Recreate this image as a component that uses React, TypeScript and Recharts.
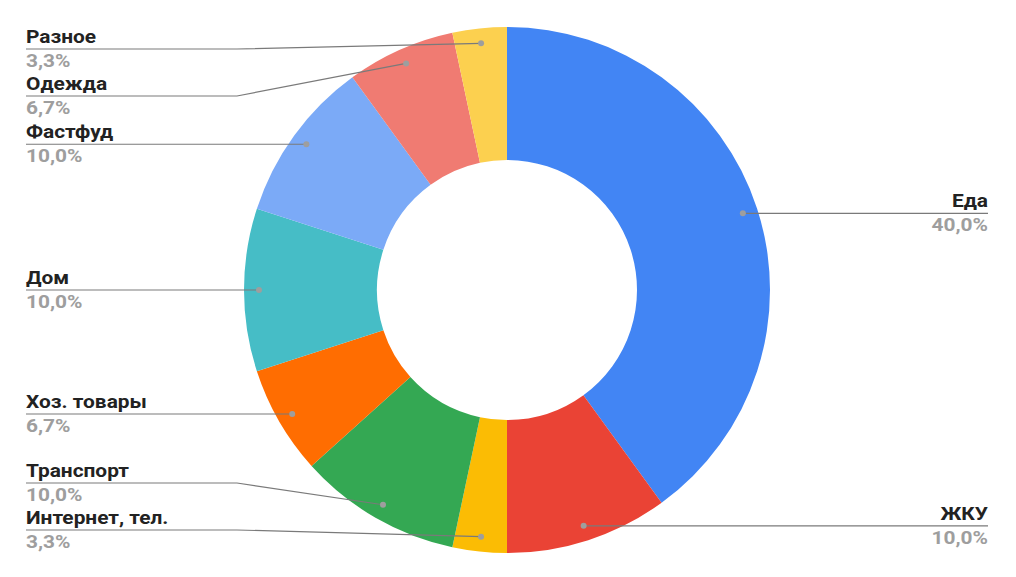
import { Cell, Pie, PieChart } from "recharts";

const categories = ["Еда", "ЖКУ", "Интернет, тел.", "Транспорт", "Хоз. товары", "Дом", "Фастфуд", "Одежда", "Разное"];
const amounts = [12, 3, 1, 3, 2, 3, 3, 2, 1];
const colors = ["#4285F4", "#EA4335", "#FBBC04", "#34A853", "#FF6D01", "#46BDC6", "#7BAAF7", "#F07B72", "#FCD04F"];

const data = categories.map((name, i) => ({ name, value: amounts[i] }));

const W = 1016;
const H = 577;
const CX = 507;
const CY = 290;
const OUTER = 263;
const INNER = 130;
const DOT_R = 248;
const GAP = 47;
const TOP_Y = 49;
const BOTTOM_Y = 530;
const FONT = 18;
const STRETCH = 1.16;

const RAD = Math.PI / 180;

// work out where each label line should sit, pushing crowded ones apart
function layoutLabels() {
  const total = amounts.reduce((a, b) => a + b, 0);
  let acc = 0;
  const items = amounts.map((v, i) => {
    const mid = 90 - ((acc + v / 2) / total) * 360;
    acc += v;
    const y = CY - DOT_R * Math.sin(mid * RAD);
    const x = CX + DOT_R * Math.cos(mid * RAD);
    return { i, y, right: x >= CX };
  });
  const ys: number[] = items.map((it) => it.y);
  [true, false].forEach((side) => {
    const group = items.filter((it) => it.right === side).sort((a, b) => a.y - b.y);
    const pos = group.map((it) => Math.min(BOTTOM_Y, Math.max(TOP_Y, it.y)));
    for (let k = 1; k < pos.length; k++) pos[k] = Math.max(pos[k], pos[k - 1] + GAP);
    for (let k = pos.length - 1; k >= 0; k--) {
      pos[k] = Math.min(pos[k], BOTTOM_Y);
      if (k < pos.length - 1) pos[k] = Math.min(pos[k], pos[k + 1] - GAP);
    }
    group.forEach((it, k) => (ys[it.i] = pos[k]));
  });
  return ys;
}

const labelY = layoutLabels();

const renderLabel = (props: any) => {
  const { cx, cy, midAngle, index, percent, name } = props;
  const dx = cx + DOT_R * Math.cos(-midAngle * RAD);
  const dy = cy + DOT_R * Math.sin(-midAngle * RAD);
  const right = dx >= cx;
  const y = labelY[index];
  const edge = right ? 988 : 26;
  const elbow = right ? 779 : 237;
  const pct = (percent * 100).toFixed(1).replace(".", ",") + "%";
  const anchor = right ? "end" : "start";
  return (
    <g key={`lbl-${index}`}>
      <polyline
        points={`${edge},${y} ${elbow},${y} ${dx},${dy}`}
        fill="none"
        stroke="#7a7a7a"
        strokeWidth={1.2}
      />
      <circle cx={dx} cy={dy} r={3} fill="#9e9e9e" />
      <text
        transform={`translate(${edge},${y - 6}) scale(${STRETCH},1)`}
        textAnchor={anchor}
        fontFamily="Roboto, sans-serif"
        fontWeight="bold"
        fontSize={FONT}
        fill="#222222"
      >
        {name}
      </text>
      <text
        transform={`translate(${edge},${y + 18}) scale(${STRETCH},1)`}
        textAnchor={anchor}
        fontFamily="Roboto, sans-serif"
        fontWeight="bold"
        fontSize={FONT}
        fill="#9e9e9e"
      >
        {pct}
      </text>
    </g>
  );
};

export default function App() {
  return (
    <div style={{ margin: -8, width: W, height: H, background: "#fff" }}>
      <PieChart width={W} height={H} margin={{ top: 0, right: 0, bottom: 0, left: 0 }}>
        <Pie
          data={data}
          dataKey="value"
          nameKey="name"
          cx={CX}
          cy={CY}
          outerRadius={OUTER}
          innerRadius={INNER}
          startAngle={90}
          endAngle={-270}
          stroke="none"
          label={renderLabel}
          labelLine={false}
          isAnimationActive={false}
        >
          {data.map((d, i) => (
            <Cell key={d.name} fill={colors[i]} />
          ))}
        </Pie>
      </PieChart>
    </div>
  );
}
